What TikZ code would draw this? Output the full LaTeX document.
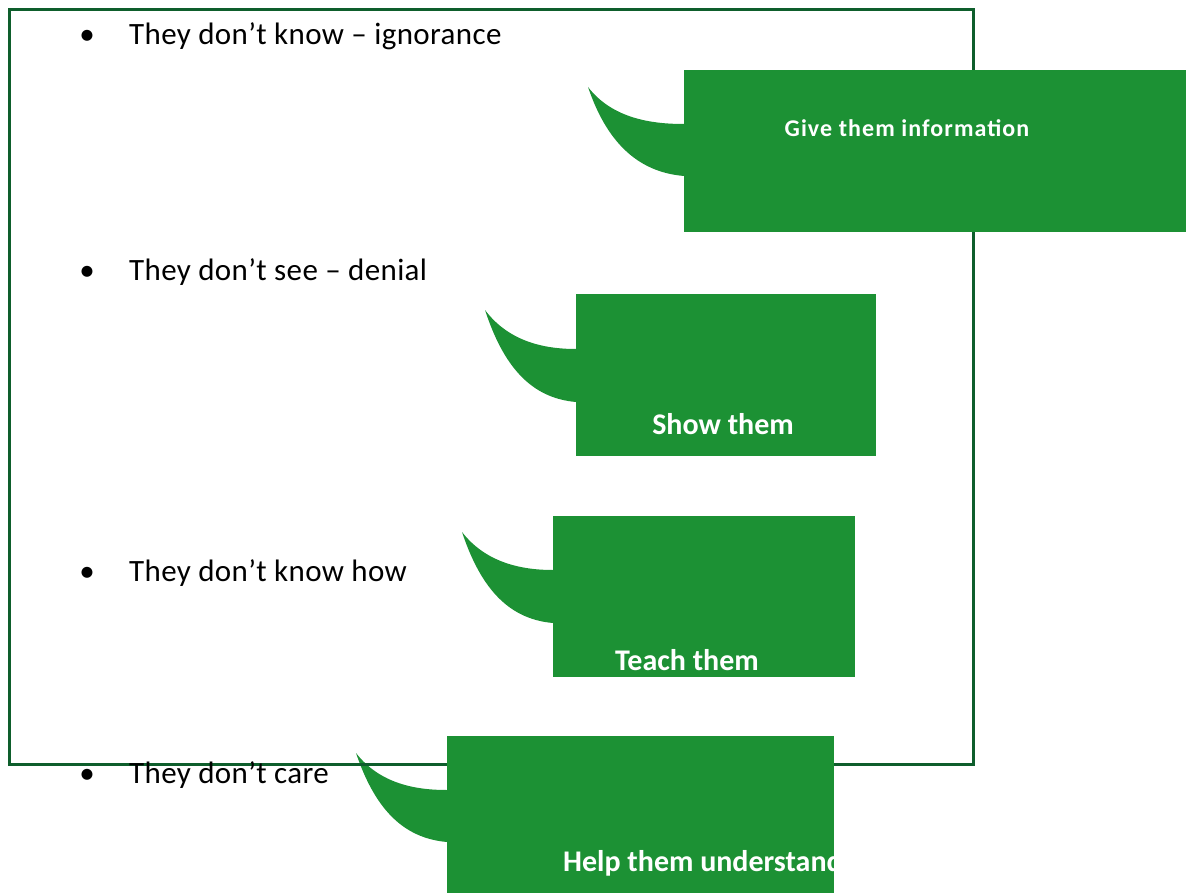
\documentclass[tikz,border=0pt]{standalone}
\usepackage{fontspec}
\setmainfont{Carlito}
\newfontfamily\itemfont[LetterSpace=1.2]{Carlito}
\newfontfamily\givefont[LetterSpace=4.5]{Carlito}
\definecolor{calloutgreen}{RGB}{28,145,52}
\definecolor{framegreen}{RGB}{14,94,44}
\begin{document}
\begin{tikzpicture}[x=1pt,y=-1pt,
  box/.style={fill=calloutgreen, draw=none, anchor=north west, inner sep=0pt},
  tail/.style={fill=calloutgreen, draw=none},
  lbl/.style={text=white, font=\fontsize{30}{34}\selectfont\bfseries, anchor=base, inner sep=0pt},
  item/.style={text=black, font=\fontsize{31}{35}\selectfont\itemfont, anchor=base west, inner sep=0pt},
  bul/.style={text=black, font=\fontsize{31}{35}\selectfont, anchor=base, inner sep=0pt}]
\useasboundingbox (0,0) rectangle (1190,893);
% tails
\fill[tail] (588,87) .. controls (612,118) and (650,124) .. (684,124) -- (684,176) .. controls (636,172) and (606,140) .. (588,87) -- cycle;
\fill[tail] (485,310) .. controls (509,342) and (545,349) .. (576,349) -- (576,402) .. controls (530,398) and (503,365) .. (485,310) -- cycle;
\fill[tail] (462,532) .. controls (486,563) and (522,570) .. (553,570) -- (553,623) .. controls (507,619) and (480,586) .. (462,532) -- cycle;
\fill[tail] (356,753) .. controls (380,784) and (416,790) .. (447,790) -- (447,842) .. controls (401,838) and (374,806) .. (356,753) -- cycle;
% frame
\draw[framegreen, line width=3pt] (9,10) rectangle (973,764);
% bullet items
\node[bul] (d1) at (87,45) {•};
\node[item] (i1) at (129,45) {They don’t know – ignorance};
\node[bul] (d2) at (87,280) {•};
\node[item] (i2) at (129,280) {They don’t see – denial};
\node[bul] (d3) at (87,581) {•};
\node[item] (i3) at (129,581) {They don’t know how};
\node[bul] (d4) at (87,783) {•};
\node[item] (i4) at (129,783) {They don’t care};
% boxes
\node[box, minimum width=502pt, minimum height=162pt] (b1) at (684,70) {};
\node[box, minimum width=300pt, minimum height=162pt] (b2) at (576,294) {};
\node[box, minimum width=302pt, minimum height=161pt] (b3) at (553,516) {};
\node[box, minimum width=387pt, minimum height=160pt] (b4) at (447,736) {};
% labels
\node[lbl, font=\fontsize{24}{28}\selectfont\givefont\bfseries] (l1) at (907,137) {Give them information};
\node[lbl] (l2) at (723,434) {Show them};
\node[lbl] (l3) at (687,670) {Teach them};
\node[lbl, anchor=base west] (l4) at (563,871) {Help them understand};
\end{tikzpicture}
\end{document}
